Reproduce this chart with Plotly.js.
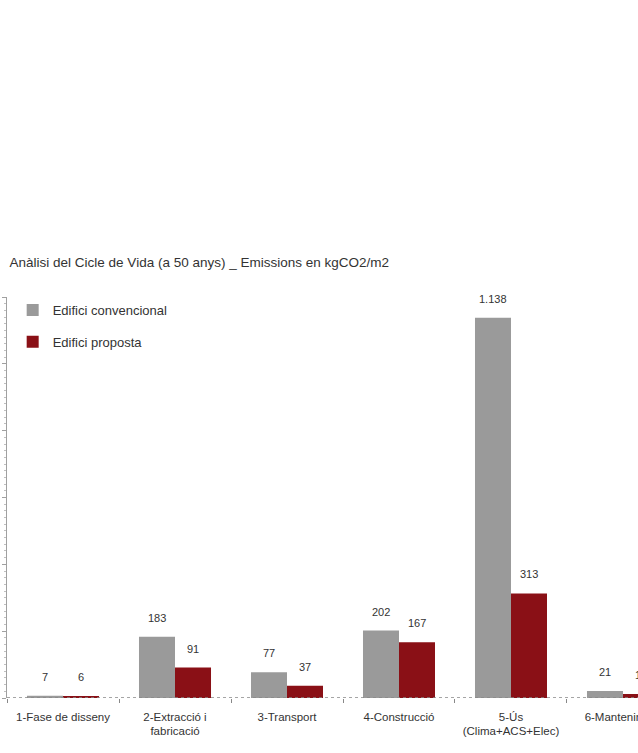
<!DOCTYPE html>
<html>
<head>
<meta charset="utf-8">
<script src="https://cdn.plot.ly/plotly-3.0.1.min.js"></script>
<style>
  html, body { margin: 0; padding: 0; background: #ffffff; }
  #chart { width: 638px; height: 753px; }
</style>
</head>
<body>
<div id="chart"></div>
<script>
// Life-cycle emissions per phase, kgCO2/m2 over 50 years
const categories = [
  '1-Fase de disseny',
  '2-Extracció i<br>fabricació',
  '3-Transport',
  '4-Construcció',
  '5-Ús<br>(Clima+ACS+Elec)',
  '6-Manteniment'
];
const conventionalValues = [7, 183, 77, 202, 1138, 21];
const proposalValues = [6, 91, 37, 167, 313, 12];
const seriesNames = ['Edifici convencional', 'Edifici proposta'];
const seriesColors = ['#9a9a9a', '#8a1016'];

// Catalan number format: dot as thousands separator
function fmt(v) {
  return String(v).replace(/\B(?=(\d{3})+(?!\d))/g, '.');
}

const FONT = 'Liberation Sans, Arial, sans-serif';

const traces = [conventionalValues, proposalValues].map((vals, i) => ({
  type: 'bar',
  name: seriesNames[i],
  legendgroup: 'g' + i,
  x: categories,
  y: vals,
  marker: { color: seriesColors[i], line: { width: 0 } },
  hoverinfo: 'x+y'
}));

// Value labels sitting above each bar
const annotations = [];
[conventionalValues, proposalValues].forEach((vals, i) => {
  vals.forEach((v, j) => {
    annotations.push({
      x: categories[j], y: v, xref: 'x', yref: 'y',
      text: fmt(v), showarrow: false,
      xshift: i === 0 ? -18 : 18, yshift: 19, yanchor: 'middle',
      font: { family: FONT, size: 11, color: '#333333' }
    });
  });
});

const layout = {
  width: 638, height: 753,
  margin: { l: 7, r: 0, t: 297, b: 55 },
  paper_bgcolor: '#ffffff', plot_bgcolor: '#ffffff',
  font: { family: FONT, size: 11, color: '#333333' },
  title: {
    text: 'Anàlisi del Cicle de Vida (a 50 anys) _ Emissions en kgCO2/m2',
    xref: 'container', x: 0.015, xanchor: 'left',
    yref: 'container', y: 1 - 262 / 753, yanchor: 'middle',
    font: { family: FONT, size: 13.5, color: '#333333' }
  },
  barmode: 'group',
  bargap: 0.357,
  bargroupgap: 0,
  showlegend: true,
  legend: {
    x: 0.009, xanchor: 'left', y: 1.005, yanchor: 'top',
    bgcolor: 'rgba(0,0,0,0)', borderwidth: 0,
    tracegroupgap: 12,
    font: { family: FONT, size: 13, color: '#333333' }
  },
  xaxis: {
    type: 'category',
    range: [-0.5, 5.134],
    showline: false, showgrid: false, zeroline: false,
    ticks: 'outside', tickson: 'boundaries', ticklen: 4, tickcolor: '#888888',
    ticklabelstandoff: 10,
    tickfont: { family: FONT, size: 11.5, color: '#333333' },
    fixedrange: true
  },
  yaxis: {
    range: [0, 1200],
    dtick: 200,
    showline: true, linecolor: '#a0a0a0', linewidth: 1.5,
    ticks: 'outside', ticklen: 4, tickcolor: '#a0a0a0',
    minor: { ticks: 'outside', ticklen: 2, dtick: 20, tickcolor: '#c0c0c0' },
    showticklabels: false, showgrid: false, zeroline: false,
    fixedrange: true
  },
  shapes: [{
    type: 'line', xref: 'paper', x0: 0, x1: 1, yref: 'y', y0: 0, y1: 0,
    line: { color: '#888888', width: 1.5, dash: 'dot' }, layer: 'above'
  }],
  annotations: annotations
};

Plotly.newPlot('chart', traces, layout, { displayModeBar: false, staticPlot: true });
</script>
</body>
</html>
